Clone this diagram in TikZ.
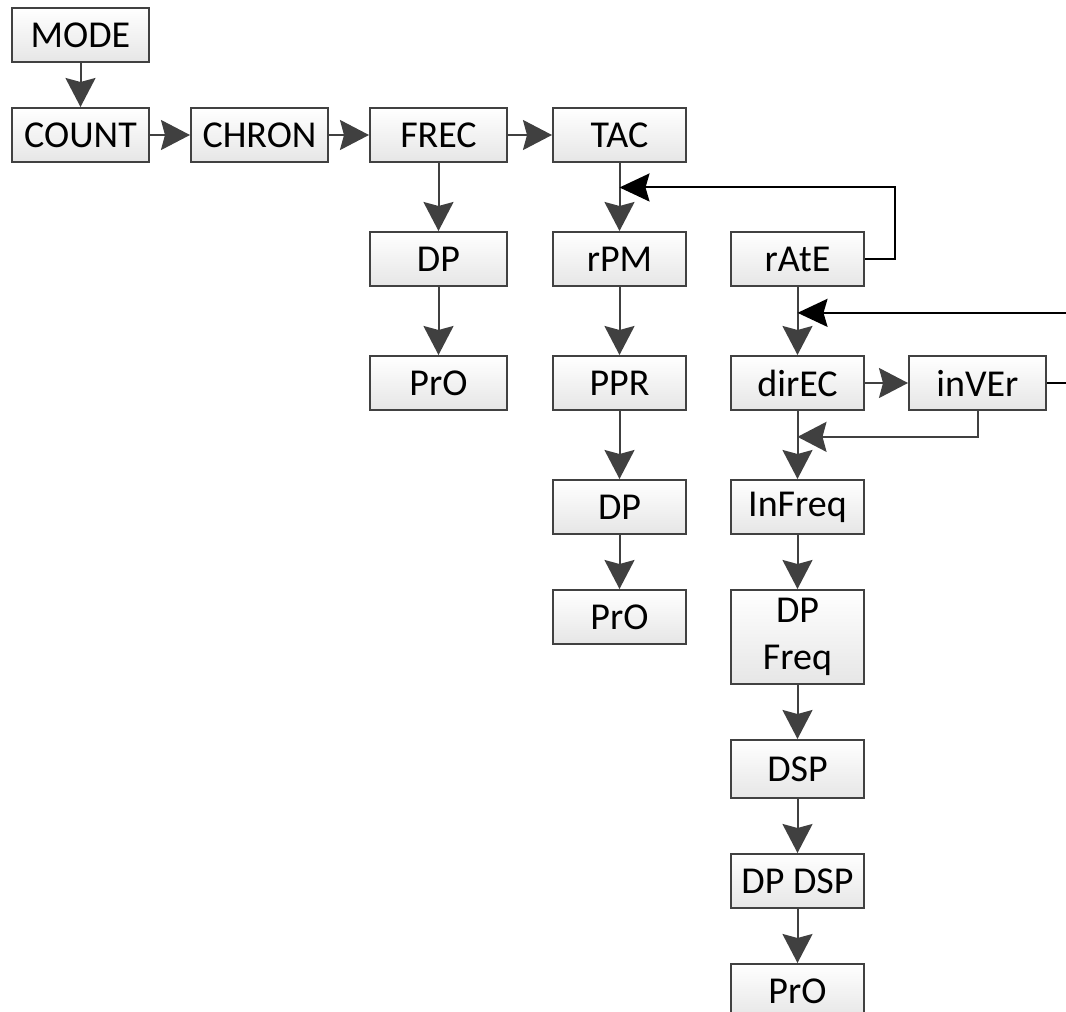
\documentclass[tikz,border=0pt]{standalone}
\usepackage{fontspec}
\setmainfont{Carlito}
\definecolor{BoxLine}{HTML}{414141}
\definecolor{BoxFill}{HTML}{E6E6E6}
\definecolor{FlowLine}{HTML}{404040}
\usetikzlibrary{arrows.meta,positioning,calc}

\begin{document}
\begin{tikzpicture}[
						x=0.5pt, y=-0.5pt,
						node distance=34pt and 20pt,
						box/.style={draw=BoxLine, line width=1pt, top color=white, bottom color=BoxFill,
							minimum width=68.5pt, minimum height=27pt, inner sep=0pt, align=center,
							font=\fontsize{19}{23.5}\selectfont},
						slim/.style={box, minimum width=66.5pt},
						flow/.style={draw=FlowLine, line width=1pt, -{Stealth[length=14.5pt, width=15pt, inset=2pt]}},
						back/.style={draw=black, line width=1pt, -{Stealth[length=15pt, width=14pt, inset=2pt]}}
					]
						\useasboundingbox (0,0) rectangle (1066,1012);

						\node[box] (mode) at (80.5,35) {MODE};
						\node[box, below=22pt of mode] (count) {COUNT};
						\node[box, right=of count] (chron) {CHRON};
						\node[box, right=of chron] (frec) {FREC};
						\node[slim, right=22pt of frec] (tac) {TAC};

						\node[box, below=of frec] (dpfrec) {DP};
						\node[box, below=of dpfrec] (profrec) {PrO};

						\node[slim, below=of tac] (rpm) {rPM};
						\node[slim, below=of rpm] (ppr) {PPR};
						\node[slim, below=of ppr] (dptac) {DP};
						\node[slim, below=27pt of dptac] (protac) {PrO};

						\node[slim, right=21.5pt of rpm] (rate) {rAtE};
						\node[slim, below=of rate] (direc) {dirEC};
						\node[box, right=21.5pt of direc] (inver) {inVEr};
						\node[slim, below=of direc] (infreq) {InFreq};
						\node[slim, below=27pt of infreq, minimum height=47pt] (dpfreq) {DP\\Freq};
						\node[slim, below=27pt of dpfreq, minimum height=29pt] (dsp) {DSP};
						\node[slim, below=27pt of dsp] (dpdsp) {DP DSP};
						\node[slim, below=27pt of dpdsp] (prorate) {PrO};

						\coordinate (tacjoin) at ($(tac.south)!0.36!(rpm.north)$);
						\coordinate (ratejoin) at ($(rate.south)!0.38!(direc.north)$);
						\coordinate (direcjoin) at ($(direc.south)!0.38!(infreq.north)$);

						\draw[flow] (mode) -- (count);
						\draw[flow] (count) -- (chron);
						\draw[flow] (chron) -- (frec);
						\draw[flow] (frec) -- (tac);
						\draw[flow] (frec) -- (dpfrec);
						\draw[flow] (dpfrec) -- (profrec);
						\draw[flow] (tac) -- (rpm);
						\draw[flow] (rpm) -- (ppr);
						\draw[flow] (ppr) -- (dptac);
						\draw[flow] (dptac) -- (protac);
						\draw[flow] (rate) -- (direc);
						\draw[flow] (direc) -- (inver);
						\draw[flow] (direc) -- (infreq);
						\draw[flow] (infreq) -- (dpfreq);
						\draw[flow] (dpfreq) -- (dsp);
						\draw[flow] (dsp) -- (dpdsp);
						\draw[flow] (dpdsp) -- (prorate);

						\draw[back] (rate.east) -- ++(15pt,0) |- (tacjoin);
						\draw[back] (inver.east) -- ++(20pt,0) |- (ratejoin);
						\draw[flow] (inver.south) |- (direcjoin);
					\end{tikzpicture}
\end{document}
